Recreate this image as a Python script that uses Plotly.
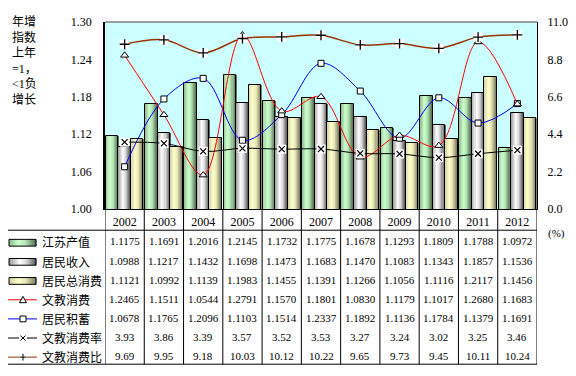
import plotly.graph_objects as go

years = ["2002", "2003", "2004", "2005", "2006", "2007", "2008", "2009", "2010", "2011", "2012"]
gdp = [1.1175, 1.1691, 1.2016, 1.2145, 1.1732, 1.1775, 1.1678, 1.1293, 1.1809, 1.1788, 1.0972]
income = [1.0988, 1.1217, 1.1432, 1.1698, 1.1473, 1.1683, 1.1470, 1.1083, 1.1343, 1.1857, 1.1536]
consumption = [1.1121, 1.0992, 1.1139, 1.1983, 1.1455, 1.1391, 1.1266, 1.1056, 1.1116, 1.2117, 1.1456]
edu_consumption = [1.2465, 1.1511, 1.0544, 1.2791, 1.1570, 1.1801, 1.0830, 1.1179, 1.1017, 1.2680, 1.1683]
savings = [1.0678, 1.1765, 1.2096, 1.1103, 1.1514, 1.2337, 1.1892, 1.1136, 1.1784, 1.1379, 1.1691]
edu_rate = [3.93, 3.86, 3.39, 3.57, 3.52, 3.53, 3.27, 3.24, 3.02, 3.25, 3.46]
edu_ratio = [9.69, 9.95, 9.18, 10.03, 10.12, 10.22, 9.65, 9.73, 9.45, 10.11, 10.24]

names = ["江苏产值", "居民收入", "居民总消费", "文教消费", "居民积蓄", "文教消费率", "文教消费比"]
left_ticks = [1.00, 1.06, 1.12, 1.18, 1.24, 1.30]
right_ticks = [0.0, 2.2, 4.4, 6.6, 8.8, 11.0]

FONT = "Liberation Serif, Noto Sans CJK SC, serif"
CJK = "Noto Sans CJK SC, sans-serif"

# page body has an 8px margin; figure sized/positioned to compensate
W, H = 568, 368
L, R, T, B = 97, 39, 7, 167
PW, PH = W - L - R, H - T - B
REF_LEFT, REF_BOTTOM = 105, 209  # plot-area edges in window pixels


def px(xp):
    return (xp - REF_LEFT) / PW


def py(yp):
    return (REF_BOTTOM - yp) / PH


def hexrgb(h):
    h = h.lstrip("#")
    return tuple(int(h[i:i + 2], 16) for i in (0, 2, 4))


def grad(stops, t):
    for (t0, c0), (t1, c1) in zip(stops, stops[1:]):
        if t0 <= t <= t1:
            f = (t - t0) / (t1 - t0) if t1 > t0 else 0
            a, b = hexrgb(c0), hexrgb(c1)
            return "rgb(%d,%d,%d)" % tuple(round(a[k] + (b[k] - a[k]) * f) for k in range(3))
    return stops[-1][1]


green_stops = [(0, "#8FB98F"), (0.35, "#CCFFCC"), (0.6, "#B5E5B5"), (1, "#4F6A4F")]
gray_stops = [(0, "#9A9A9A"), (0.4, "#FFFFFF"), (0.65, "#D5D5D5"), (1, "#505050")]
yellow_stops = [(0, "#CFCFA5"), (0.35, "#FFFFCC"), (0.6, "#E8E8B8"), (1, "#77775A")]

fig = go.Figure()
xs = list(range(len(years)))
bw = 0.32
N = 12
bar_series = [(gdp, green_stops, -0.48), (income, gray_stops, -0.16), (consumption, yellow_stops, 0.16)]
for vals, stops, off0 in bar_series:
    for j in range(N):
        t = (j + 0.5) / N
        sw = bw / N
        fig.add_trace(go.Bar(x=xs, y=vals, width=sw * (1.4 if j < N - 1 else 1.0),
                             offset=off0 + j * sw, marker=dict(color=grad(stops, t), line=dict(width=0)),
                             showlegend=False, hoverinfo="skip"))
    fig.add_trace(go.Bar(x=xs, y=vals, width=bw, offset=off0,
                         marker=dict(color="rgba(0,0,0,0)", line=dict(color="black", width=1)),
                         showlegend=False, hoverinfo="skip"))

# right-axis lines (with white box markers then symbols)
fig.add_trace(go.Scatter(x=xs, y=edu_rate, yaxis="y2", mode="lines+markers",
                         line=dict(color="black", width=1, shape="spline"),
                         marker=dict(symbol="square", size=9, color="white", line=dict(width=0)),
                         showlegend=False, hoverinfo="skip"))
fig.add_trace(go.Scatter(x=xs, y=edu_rate, yaxis="y2", mode="markers",
                         marker=dict(symbol="x-thin", size=6, line=dict(color="black", width=1.2)),
                         showlegend=False, hoverinfo="skip"))
fig.add_trace(go.Scatter(x=xs, y=edu_ratio, yaxis="y2", mode="lines+markers",
                         line=dict(color="#993300", width=1.5, shape="spline"),
                         marker=dict(symbol="square", size=9, color="white", line=dict(width=0)),
                         showlegend=False, hoverinfo="skip"))
fig.add_trace(go.Scatter(x=xs, y=edu_ratio, yaxis="y2", mode="markers",
                         marker=dict(symbol="cross-thin", size=7, line=dict(color="black", width=1.3)),
                         showlegend=False, hoverinfo="skip"))
# left-axis lines
fig.add_trace(go.Scatter(x=xs, y=savings, mode="lines+markers",
                         line=dict(color="#0000FF", width=1, shape="spline"),
                         marker=dict(symbol="square", size=6, color="white", line=dict(color="black", width=1)),
                         showlegend=False, hoverinfo="skip"))
fig.add_trace(go.Scatter(x=xs, y=edu_consumption, mode="lines+markers",
                         line=dict(color="#FF0000", width=1, shape="spline"),
                         marker=dict(symbol="triangle-up", size=7, color="white", line=dict(color="black", width=1)),
                         showlegend=False, hoverinfo="skip"))

shapes = []
anns = []
# plot frame top (gray)
shapes.append(dict(type="line", xref="paper", yref="paper", x0=0, x1=1, y0=1, y1=1,
                   line=dict(color="#808080", width=1.5)))
# table lines
tbl_left = px(7)
y_hdr = py(231)
y_bot = py(370)
line_k = dict(color="black", width=1)
shapes.append(dict(type="line", xref="paper", yref="paper", x0=tbl_left, x1=1, y0=y_hdr, y1=y_hdr, line=line_k))
shapes.append(dict(type="line", xref="paper", yref="paper", x0=tbl_left, x1=1, y0=y_bot, y1=y_bot, line=line_k))
shapes.append(dict(type="line", xref="paper", yref="paper", x0=tbl_left, x1=tbl_left, y0=y_hdr, y1=y_bot, line=line_k))
for k in range(len(years) + 1):
    xv = k - 0.5
    shapes.append(dict(type="line", xref="x", yref="paper", x0=xv, x1=xv, y0=0, y1=y_bot, line=line_k))

row_c = [242.7 + i * 19.83 for i in range(7)]
rows = [gdp, income, consumption, edu_consumption, savings, edu_rate, edu_ratio]
fmts = ["%.4f"] * 5 + ["%.2f"] * 2
for i, (vals, fm) in enumerate(zip(rows, fmts)):
    for j, v in enumerate(vals):
        anns.append(dict(x=j, xref="x", y=py(row_c[i]), yref="paper", text=fm % v, showarrow=False,
                         xanchor="center", yanchor="middle", font=dict(family=FONT, size=11, color="black")))
    anns.append(dict(x=px(40), xref="paper", y=py(row_c[i] + 0.5), yref="paper", text=names[i], showarrow=False,
                     xanchor="left", yanchor="middle", font=dict(family=CJK, size=12, color="black")))

# legend swatches for bars
for i, stops in enumerate([green_stops, gray_stops, yellow_stops]):
    yc = row_c[i] + 1.3
    x0s, x1s = 9, 36
    n = 14
    for j in range(n):
        t = (j + 0.5) / n
        a = x0s + (x1s - x0s) * j / n
        b = x0s + (x1s - x0s) * (j + 1) / n
        shapes.append(dict(type="rect", xref="paper", yref="paper", x0=px(a), x1=px(b + 0.4),
                           y0=py(yc - 3.5), y1=py(yc + 3.5), line=dict(width=0), fillcolor=grad(stops, t)))
    shapes.append(dict(type="rect", xref="paper", yref="paper", x0=px(x0s), x1=px(x1s),
                       y0=py(yc - 3.5), y1=py(yc + 3.5), line=dict(color="black", width=1)))

# legend swatches for lines
line_cols = ["#FF0000", "#0000FF", "black", "#993300"]
for k, col in enumerate(line_cols):
    i = 3 + k
    yc = row_c[i] + 1
    shapes.append(dict(type="line", xref="paper", yref="paper", x0=px(8), x1=px(37), y0=py(yc), y1=py(yc),
                       line=dict(color=col, width=1)))
    cx = 23
    if k == 0:
        path = "M %f %f L %f %f L %f %f Z" % (px(cx - 3.5), py(yc + 3), px(cx + 3.5), py(yc + 3), px(cx), py(yc - 3.5))
        shapes.append(dict(type="path", xref="paper", yref="paper", path=path, fillcolor="white",
                           line=dict(color="black", width=1)))
    elif k == 1:
        shapes.append(dict(type="rect", xref="paper", yref="paper", x0=px(cx - 3), x1=px(cx + 3),
                           y0=py(yc + 3), y1=py(yc - 3), fillcolor="white", line=dict(color="black", width=1)))
    else:
        shapes.append(dict(type="rect", xref="paper", yref="paper", x0=px(cx - 4), x1=px(cx + 4),
                           y0=py(yc + 4), y1=py(yc - 4), fillcolor="white", line=dict(width=0)))
        if k == 2:
            path = "M %f %f L %f %f M %f %f L %f %f" % (px(cx - 2.5), py(yc - 2.5), px(cx + 2.5), py(yc + 2.5),
                                                        px(cx - 2.5), py(yc + 2.5), px(cx + 2.5), py(yc - 2.5))
        else:
            path = "M %f %f L %f %f M %f %f L %f %f" % (px(cx - 3.5), py(yc), px(cx + 3.5), py(yc),
                                                        px(cx), py(yc - 3.5), px(cx), py(yc + 3.5))
        shapes.append(dict(type="path", xref="paper", yref="paper", path=path, line=dict(color="black", width=1)))

# left title
anns.append(dict(x=px(10), xref="paper", y=py(6), yref="paper", xanchor="left", yanchor="top",
                 text="年增<br>指数<br>上年<br>=1，<br>&lt;1负<br>增长", showarrow=False, align="left",
                 font=dict(family=FONT, size=12, color="black")))
anns.append(dict(x=px(546), xref="paper", y=py(234), yref="paper", xanchor="left", yanchor="middle",
                 text="(%)", showarrow=False, font=dict(family=FONT, size=11, color="black")))

fig.update_layout(
    width=W, height=H, margin=dict(l=L, r=R, t=T, b=B, pad=0),
    paper_bgcolor="white", plot_bgcolor="#CCFFFF",
    barmode="overlay", bargap=0, showlegend=False,
    xaxis=dict(range=[-0.5, len(years) - 0.5], tickmode="array", tickvals=xs, ticktext=years,
               showgrid=False, zeroline=False, showline=True, linecolor="black", linewidth=1,
               ticks="", ticklabelstandoff=2, tickfont=dict(family=FONT, size=12, color="black")),
    yaxis=dict(range=[1.0, 1.3], tickmode="array", tickvals=left_ticks,
               ticktext=["%.2f" % v for v in left_ticks], showgrid=False, zeroline=False,
               showline=True, linecolor="black", linewidth=1.5, ticks="", ticklabelstandoff=9,
               tickfont=dict(family=FONT, size=12, color="black")),
    yaxis2=dict(range=[0, 11], overlaying="y", side="right", tickmode="array", tickvals=right_ticks,
                ticktext=["%.1f" % v for v in right_ticks], showgrid=False, zeroline=False,
                showline=True, linecolor="black", linewidth=1, ticks="", ticklabelstandoff=7,
                tickfont=dict(family=FONT, size=12, color="black")),
    shapes=shapes, annotations=anns,
)
fig.write_html("out.html")
